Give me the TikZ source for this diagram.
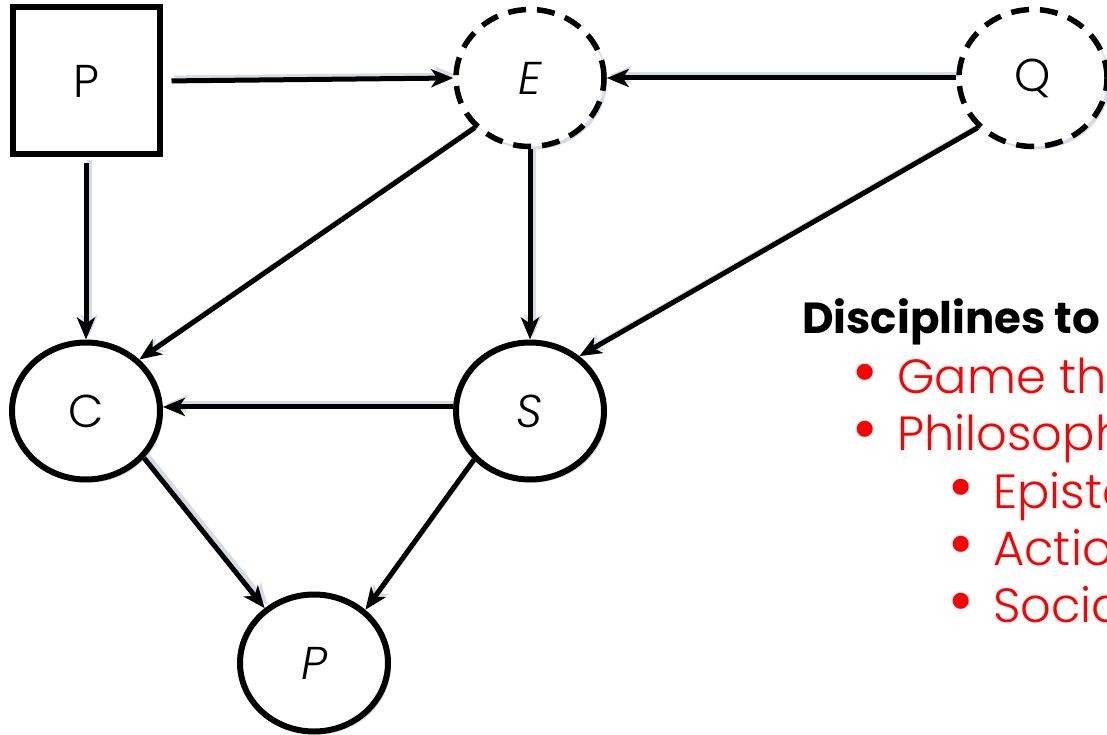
\documentclass[tikz,border=0pt]{standalone}
\usepackage{fontspec}
\setmainfont{Poppins}
\newfontfamily\lightfont{Poppins Light}[ItalicFont={Poppins Light Italic}]
\usetikzlibrary{arrows.meta,shapes.geometric,shadows,backgrounds}
\definecolor{shadowcol}{RGB}{214,220,230}
\definecolor{txtred}{RGB}{255,0,0}
\tikzset{
  nodeshadow/.style={drop shadow={shadow xshift=3pt,shadow yshift=-3pt,fill=shadowcol,opacity=1}},
  sqnode/.style={draw,line width=6pt,fill=white,rectangle,minimum size=147pt,inner sep=0pt,nodeshadow,font=\lightfont\fontsize{46}{50}\selectfont},
  ellnode/.style={draw,line width=6pt,fill=white,ellipse,minimum width=148pt,minimum height=137pt,inner sep=0pt,nodeshadow,font=\lightfont\fontsize{46}{50}\selectfont},
  dashnode/.style={ellnode,line width=5.5pt,dash pattern=on 18pt off 11pt},
  conn/.style={line width=5pt,-{Stealth[length=22pt,width=18pt,inset=6pt]}},
  connshadow/.style={conn,draw=shadowcol,transform canvas={shift={(3pt,3pt)}}},
  heading/.style={anchor=base west,inner sep=0pt,font=\fontsize{43.5}{50}\selectfont\bfseries},
  item/.style={anchor=base west,inner sep=0pt,text=txtred,font=\lightfont\fontsize{48}{55}\selectfont}
}
\newcommand{\bulmark}{\makebox[45pt][l]{\raisebox{-2pt}{\scalebox{1.45}{•}}}}
\begin{document}
\begin{tikzpicture}[x=1pt,y=-1pt]
\useasboundingbox (0,0) rectangle (1107,735);
\clip (0,0) rectangle (1107,735);
% nodes
\node[sqnode] (Psq) at (86,81) {P};
\node[dashnode] (E) at (530,78) {\itshape E};
\node[dashnode] (Q) at (1033,78) {Q};
\node[ellnode] (C) at (86,411) {C};
\node[ellnode] (S) at (530,411) {\itshape S};
\node[ellnode] (Pb) at (314,663) {\itshape P};
% connectors (shadows)
\begin{scope}[on background layer]
\draw[connshadow,shorten <=9pt] (Psq.east) -- (E.west);
\draw[connshadow] (Q.west) -- (E.east);
\draw[connshadow,shorten <=6pt] (Psq.south) -- (C.north);
\draw[connshadow] (E.222) -- (C.44);
\draw[connshadow] (E.south) -- (S.north);
\draw[connshadow] (Q.222) -- (S.48);
\draw[connshadow] (S.177) -- (C.3);
\draw[connshadow] (C.321) -- (Pb.132);
\draw[connshadow] (S.221) -- (Pb.46);
\end{scope}
% connectors
\draw[conn,shorten <=9pt] (Psq.east) -- (E.west);
\draw[conn] (Q.west) -- (E.east);
\draw[conn,shorten <=6pt] (Psq.south) -- (C.north);
\draw[conn] (E.222) -- (C.44);
\draw[conn] (E.south) -- (S.north);
\draw[conn] (Q.222) -- (S.48);
\draw[conn] (S.177) -- (C.3);
\draw[conn] (C.321) -- (Pb.132);
\draw[conn] (S.221) -- (Pb.46);
% text
\node[heading] (head) at (802,333) {Disciplines to};
\node[item] (i1) at (852,393) {\bulmark Game theory};
\node[item] (i2) at (852,450) {\bulmark Philosophy};
\node[item] (i3) at (948,508) {\bulmark Epistemology};
\node[item] (i4) at (948,565) {\bulmark Action theory};
\node[item] (i5) at (948,622) {\bulmark Social epistemology};
\end{tikzpicture}
\end{document}
